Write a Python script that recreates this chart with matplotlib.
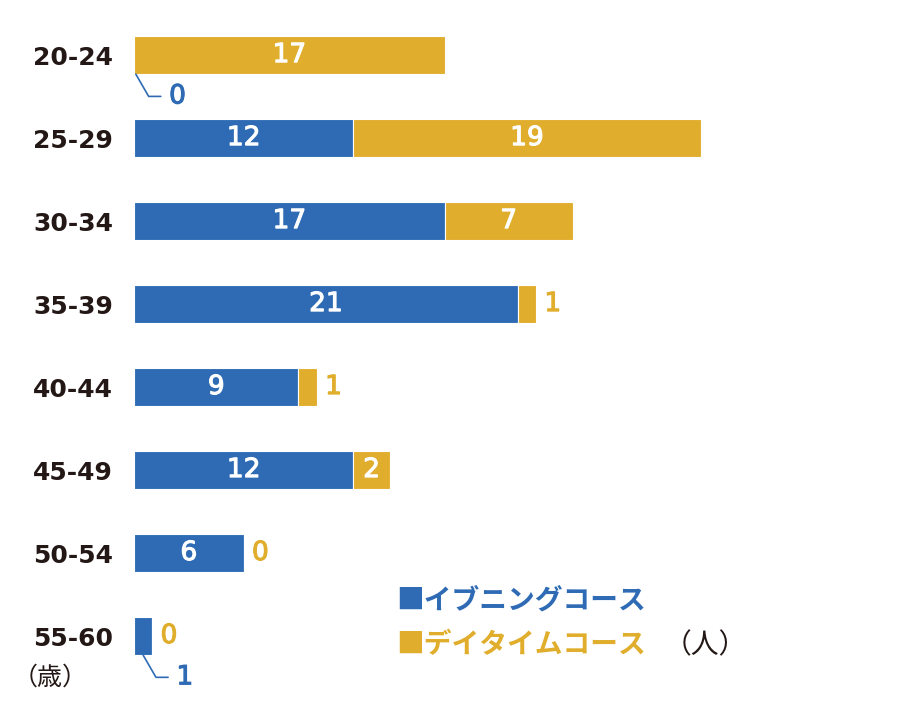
import matplotlib
matplotlib.use('Agg')
import matplotlib.pyplot as plt
import matplotlib.patheffects as pe

plt.rcParams['font.family'] = ['Noto Sans CJK JP', 'DejaVu Sans']

# data
ages = ['20-24', '25-29', '30-34', '35-39', '40-44', '45-49', '50-54', '55-60']
evening = [0, 12, 17, 21, 9, 12, 6, 1]
daytime = [17, 19, 7, 1, 1, 2, 0, 0]
series_names = ['イブニングコース', 'デイタイムコース']

blue = '#2e6bb4'
gold = '#e0ae2c'
ink = '#231815'
h = 0.46

fig = plt.figure(figsize=(9.13, 7.24), dpi=100)
ax = fig.add_axes([134 / 913, 0.0642, 731 / 913, 0.917])
ax.set_xlim(0, 40)
ax.set_ylim(len(ages) - 0.5, -0.5)

ypos = list(range(len(ages)))
ax.barh(ypos, evening, height=h, color=blue, edgecolor='white', linewidth=0.8)
ax.barh(ypos, daytime, left=evening, height=h, color=gold, edgecolor='white', linewidth=0.8)


def num_label(x, y, s, color, **kw):
    # regular weight thickened a little with a stroke of the same colour
    t = ax.annotate(s, xy=(x, y), fontsize=19, family='DejaVu Sans', color=color, **kw)
    t.set_path_effects([pe.withStroke(linewidth=0.8, foreground=color)])
    return t


for i, (e, d) in enumerate(zip(evening, daytime)):
    # evening labels
    if e >= 2:
        num_label(e / 2, i, str(e), 'white', ha='center', va='center')
    else:
        num_label(max(e / 2, 0.1), i + h / 2, str(e), blue, xytext=(30, -16),
                  textcoords='offset points', ha='center', va='center',
                  arrowprops=dict(arrowstyle='-', color=blue, lw=1.2, shrinkA=4, shrinkB=0,
                                  connectionstyle='angle,angleA=0,angleB=-60,rad=0'))
    # daytime labels
    if d >= 2:
        num_label(e + d / 2, i, str(d), 'white', ha='center', va='center')
    else:
        num_label(e + d, i, str(d), gold, xytext=(6, 0), textcoords='offset points',
                  ha='left', va='center')

ax.set_yticks(ypos)
ax.set_yticklabels(ages, fontsize=18, fontweight='bold', color=ink, family='DejaVu Sans')
ax.tick_params(axis='y', length=0, pad=15)
ax.set_xticks([])
for s in ax.spines.values():
    s.set_visible(False)

# legend as text
fig.text(396 / 913, 1 - 601 / 724, '■' + series_names[0], color=blue, fontsize=20,
         fontweight='bold', va='center', ha='left')
fig.text(396 / 913, 1 - 645 / 724, '■' + series_names[1], color=gold, fontsize=20,
         fontweight='bold', va='center', ha='left')
fig.text(664 / 913, 1 - 645 / 724, '（人）', color=ink, fontsize=20,
         va='center', ha='left')
fig.text(13 / 913, 1 - 678 / 724, '（歳）', color=ink, fontsize=18,
         va='center', ha='left')

fig.savefig('out.png', dpi=100)
